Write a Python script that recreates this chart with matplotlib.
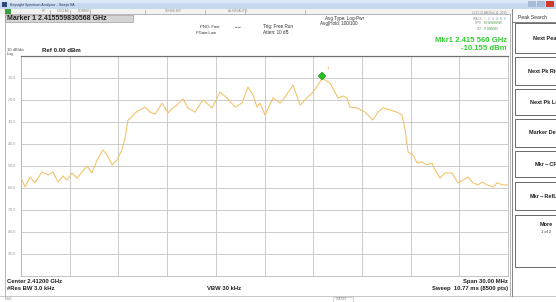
import numpy as np
import matplotlib
matplotlib.use('Agg')
import matplotlib.pyplot as plt
from matplotlib.patches import Rectangle

plt.rcParams['font.family'] = ['Liberation Sans', 'DejaVu Sans']

# Trace (frequency in MHz, level in dBm)
freq_mhz = [2397.00, 2397.25, 2397.55, 2397.86, 2398.29, 2398.66, 2398.97, 2399.28,
            2399.59, 2399.83, 2400.14, 2400.45, 2400.76, 2401.07, 2401.37, 2401.68,
            2402.05, 2402.30, 2402.61, 2402.91, 2403.22, 2403.41, 2403.59, 2403.84,
            2404.02, 2404.33, 2404.64, 2404.95, 2405.25, 2405.44, 2405.69, 2406.06,
            2406.36, 2406.61, 2406.98, 2407.29, 2407.72, 2408.03, 2408.21, 2408.77,
            2409.26, 2409.69, 2410.18, 2410.61, 2410.98, 2411.29, 2411.54, 2411.72,
            2412.03, 2412.52, 2412.96, 2413.14, 2413.76, 2414.19, 2414.68, 2414.99,
            2415.56, 2416.04, 2416.53, 2416.84, 2417.08, 2417.27, 2417.70, 2418.19,
            2418.68, 2418.99, 2419.30, 2419.73, 2420.16, 2420.47, 2420.66, 2420.84,
            2421.15, 2421.40, 2421.70, 2422.01, 2422.32, 2422.50, 2422.81, 2423.12,
            2423.55, 2423.92, 2424.23, 2424.54, 2424.85, 2425.15, 2425.40, 2425.71,
            2426.08, 2426.32, 2426.69, 2427.00]
level_dbm = [-55.5, -59.5, -55.0, -57.7, -52.7, -54.1, -52.7, -57.3,
             -54.5, -56.4, -53.2, -55.5, -52.7, -50.0, -53.2, -47.3,
             -42.7, -45.0, -49.5, -47.3, -42.7, -37.3, -29.1, -27.7,
             -25.9, -24.5, -23.2, -25.5, -26.4, -24.5, -21.4, -25.9,
             -23.6, -22.3, -19.5, -23.6, -25.5, -21.8, -20.0, -23.6,
             -16.4, -19.1, -23.2, -21.4, -14.1, -17.7, -23.2, -21.4,
             -26.8, -19.1, -21.4, -20.0, -13.2, -22.3, -18.6, -16.4,
             -10.155, -12.3, -19.1, -18.2, -19.1, -23.2, -23.6, -25.5,
             -29.1, -25.5, -23.6, -24.5, -25.5, -26.8, -33.6, -43.6,
             -45.0, -48.6, -48.2, -49.5, -48.6, -51.8, -55.5, -53.2,
             -53.2, -57.7, -56.4, -55.0, -57.7, -58.6, -57.3, -58.6,
             -59.5, -57.7, -58.6, -58.6]

marker_freq = 2415.56
marker_level = -10.155
center_mhz = 2412.0
span_mhz = 30.0
ref_level = 0.0
db_per_div = 10
ytick_vals = [-10, -20, -30, -40, -50, -60, -70, -80, -90]

softkeys = ['Next Peak', 'Next Pk Right', 'Next Pk Left', 'Marker Delta',
            'Mkr\u2192CF', 'Mkr\u2192RefLvl']

W, H = 556, 302
fig = plt.figure(figsize=(W / 100, H / 100), dpi=100)

# overlay axes in pixel coordinates for the instrument screen
ov = fig.add_axes([0, 0, 1, 1], zorder=0)
ov.set_xlim(0, W)
ov.set_ylim(H, 0)
ov.axis('off')

# title bar
ov.add_patch(Rectangle((0, 0), W, 9, color='#c6d9ef', lw=0))
ov.add_patch(Rectangle((0, 0), W, 3, color='#dde8f6', lw=0))
ov.text(10, 4.7, 'Keysight Spectrum Analyzer - Swept SA', fontsize=2.6, color='#333355', va='center')
ov.add_patch(Rectangle((2, 1.5), 5, 5, color='#304a80', lw=0))
for xx, c in [(528, '#a8bcd8'), (537, '#a8bcd8'), (546, '#d03a2a')]:
    ov.add_patch(Rectangle((xx, 1), 8, 6, color=c, lw=0))

# toolbar row
ov.add_patch(Rectangle((0, 9), 512, 5, color='#f2f2f2', lw=0))
ov.add_patch(Rectangle((5, 9), 6, 5, color='#3aa040', lw=0))
for xx in [50, 70, 90, 145, 205, 245, 305]:
    ov.plot([xx, xx], [9.5, 13.5], color='#909090', lw=0.4)
for xx, s in [(42, 'RF'), (57, '50 \u03a9 AC'), (78, 'CORREC'), (165, 'SENSE:INT'), (228, 'ALIGN AUTO')]:
    ov.text(xx, 11.5, s, fontsize=2.3, color='#888888', va='center')

# display frame
ov.plot([5, 5, 510, 510], [296, 14, 14, 296], color='#9a9a9a', lw=0.5)

# marker readout box
ov.add_patch(Rectangle((5, 14.5), 128, 7.5, facecolor='#d4d4d4', edgecolor='#8a8a8a', lw=0.4))
ov.text(7, 18.4, 'Marker 1 2.415559830568 GHz', fontsize=5.0, fontweight='bold', color='#202020', va='center')

# acquisition settings
ov.text(200, 27, 'PNO: Fast', fontsize=3.0, color='#303030', va='center')
ov.text(196, 32.5, 'IFGain:Low', fontsize=3.0, color='#303030', va='center')
ov.text(233, 27, '\u2192\u2190', fontsize=3.2, color='#303030', va='center')
ov.text(263, 26.5, 'Trig: Free Run', fontsize=3.3, color='#303030', va='center')
ov.text(263, 32, 'Atten: 10 dB', fontsize=3.3, color='#303030', va='center')
ov.text(325, 18.5, 'Avg Type: Log-Pwr', fontsize=3.3, color='#303030', va='center')
ov.text(320, 24, 'Avg|Hold: 100/100', fontsize=3.3, color='#303030', va='center')

# trace status block
ov.text(507, 13, '11:15:11 AM Nov 11, 2015', fontsize=2.2, color='#888888', ha='right', va='center')
ov.text(482, 18.5, 'TRACE', fontsize=2.0, color='#888888', ha='right', va='center')
ov.text(482, 23.5, 'TYPE', fontsize=2.0, color='#888888', ha='right', va='center')
ov.text(482, 28.5, 'DET', fontsize=2.0, color='#888888', ha='right', va='center')
tr_cols = ['#f0c060', '#40b0e0', '#e060e0', '#40c040', '#6060e0', '#40c0c0']
for i, c in enumerate(tr_cols):
    ov.text(484 + i * 4, 18.5, str(i + 1), fontsize=2.3, color=c, va='center')
ov.text(484, 23.5, 'M WWWWW', fontsize=2.2, color='#50a050', va='center')
ov.text(484, 28.5, 'P NNNNN', fontsize=2.2, color='#50a050', va='center')

ov.text(507, 40.5, f'Mkr1 2.415 560 GHz', fontsize=5.6, fontweight='bold', color='#33cc33', ha='right', va='center')
ov.text(507, 48, f'{marker_level:.3f} dBm', fontsize=5.6, fontweight='bold', color='#33cc33', ha='right', va='center')

ov.text(7, 50, f'{db_per_div} dB/div', fontsize=3.0, color='#505050', va='center')
ov.text(7, 54.5, 'Log', fontsize=3.0, color='#505050', va='center')
ov.text(42, 50, f'Ref {ref_level:.2f} dBm', fontsize=4.4, fontweight='bold', color='#202020', va='center')

# bottom annotations
ov.text(7, 281.5, f'Center {center_mhz / 1000:.5f} GHz', fontsize=4.2, fontweight='bold', color='#202020', va='center')
ov.text(7, 288.5, '#Res BW 3.0 kHz', fontsize=4.2, fontweight='bold', color='#202020', va='center')
ov.text(207, 288.5, 'VBW 30 kHz', fontsize=4.2, fontweight='bold', color='#202020', va='center')
ov.text(508, 281.5, f'Span {span_mhz:.2f} MHz', fontsize=4.2, fontweight='bold', color='#202020', ha='right', va='center')
ov.text(508, 288.5, 'Sweep  10.77 ms (8500 pts)', fontsize=4.2, fontweight='bold', color='#202020', ha='right', va='center')

# status bar
ov.plot([0, 556], [295.5, 295.5], color='#b0b0b0', lw=0.5)
ov.text(5, 299, 'MSG', fontsize=2.4, color='#888888', va='center')
ov.add_patch(Rectangle((333, 296.5), 20, 5, facecolor='none', edgecolor='#b0b0b0', lw=0.4))
ov.text(336, 299, 'STATUS', fontsize=2.2, color='#888888', va='center')

# softkey panel
ov.plot([512, 512], [9, 296], color='#707070', lw=0.6)
ov.text(518, 17.5, 'Peak Search', fontsize=3.6, color='#303030', va='center')
ov.plot([512, 556], [22, 22], color='#707070', lw=0.6)
key_tops = [22, 56, 88, 118, 150, 181, 214]
key_bots = [54, 86, 116, 148, 178, 211, 268]
for i, (t, b) in enumerate(zip(key_tops, key_bots)):
    ov.add_patch(Rectangle((515, t + 1), 50, b - t - 2, facecolor='white', edgecolor='#505050', lw=0.6))
    if i < len(softkeys):
        ov.text(546, (t + b) / 2, softkeys[i], fontsize=4.0, fontweight='bold', color='#202020', ha='center', va='center')
ov.text(546, 225, 'More', fontsize=4.0, fontweight='bold', color='#202020', ha='center', va='center')
ov.text(546, 232, '1 of 2', fontsize=3.0, color='#303030', ha='center', va='center')

# graticule and trace
ax = fig.add_axes([21 / W, (H - 276) / H, 487 / W, 220 / H], zorder=1)
x0 = center_mhz - span_mhz / 2
x1 = center_mhz + span_mhz / 2
ax.set_xlim(x0, x1)
ax.set_ylim(ref_level - 10 * db_per_div, ref_level)
ax.set_xticks(np.linspace(x0, x1, 11))
ax.set_yticks(np.arange(-100, 1, 10))
ax.grid(True, color='#c4c4c4', lw=0.6)
ax.tick_params(length=0, labelbottom=False, labelleft=False)
for s in ['left', 'bottom', 'right']:
    ax.spines[s].set_color('#b8b8b8')
    ax.spines[s].set_linewidth(0.6)
ax.spines['top'].set_color('#707070')
ax.spines['top'].set_linewidth(0.9)

for v in ytick_vals:
    ax.text(x0 - 0.3, v, f'{v:.1f}', fontsize=2.6, color='#909090', ha='right', va='center', clip_on=False)

ax.plot(freq_mhz, level_dbm, color='#f2c46e', lw=0.8)
ax.plot([marker_freq], [marker_level + 1.2], marker='D', ms=3.6, color='#22c022', mec='#108010', mew=0.3, ls='none')
ax.text(marker_freq + 0.3, marker_level + 4.2, '1', fontsize=3.0, color='#d09030')

fig.savefig('out.png', dpi=100)
